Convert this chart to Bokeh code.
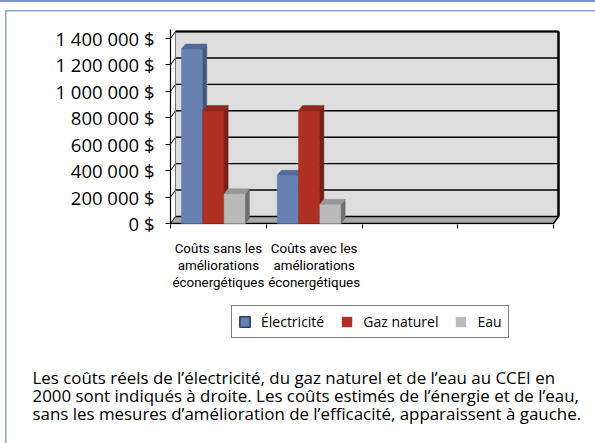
from bokeh.plotting import figure
from bokeh.models import Range1d, FixedTicker, Legend, LegendItem, Label
from bokeh.embed import file_html
from bokeh.resources import INLINE

# ---------------- data ----------------
categories = ["Coûts sans les\naméliorations\néconergétiques",
              "Coûts avec les\naméliorations\néconergétiques"]
n_slots = 4
series_names = ["Électricité", "Gaz naturel", "Eau"]
electricite = [1320000, 365000]
gaz_naturel = [855000, 855000]
eau = [225000, 145000]
y_ticks = [0, 200000, 400000, 600000, 800000, 1000000, 1200000, 1400000]
y_tick_labels = ["0 $", "200 000 $", "400 000 $", "600 000 $", "800 000 $",
                 "1 000 000 $", "1 200 000 $", "1 400 000 $"]
footer_lines = [
    "Les coûts réels de l’électricité, du gaz naturel et de l’eau au CCEI en",
    "2000 sont indiqués à droite. Les coûts estimés de l’énergie et de l’eau,",
    "sans les mesures d’amélioration de l’efficacité, apparaissent à gauche.",
]

# ---------------- geometry / style ----------------
W, H = 595, 443
H1 = 300                                 # height of the chart figure
H2 = H - H1                              # height of the legend/caption figure
FL, FR, FT, FB = 170, 562, 29, 224      # frame edges (page px)
PX_CAT = 95.75                           # px per category slot
Y0_PX, YMAX_PX = 223.0, 38.0             # front 0 and front max
YMAX = y_ticks[-1]
UPY = YMAX / (Y0_PX - YMAX_PX)           # data units per px (y)
WDX, WDY = 5 / PX_CAT, 7 * UPY           # wall depth
BDX, BDY = 4 / PX_CAT, 5 * UPY           # bar depth
BW = 21.3 / PX_CAT
OFF = 11 / PX_CAT
NAN = float("nan")

front_colors = ["#6680b2", "#b03024", "#bababa"]
side_colors = ["#45597f", "#7a1f17", "#6e6e6e"]
top_colors = ["#54699a", "#93271d", "#969696"]
legend_line = ["#2c3c5e", None, None]
RULE = "#8ca4d0"
FONT = "Open Sans"

p = figure(width=W, height=H1, title=None,
           x_range=Range1d(0, (FR - FL) / PX_CAT),
           y_range=Range1d(-(FB - Y0_PX) * UPY, YMAX + (YMAX_PX - FT) * UPY),
           output_backend="svg", toolbar_location=None,
           min_border_left=FL, min_border_right=W - FR,
           min_border_top=FT, min_border_bottom=H1 - FB)
# thin blue page rules drawn behind the (transparent) canvas
p.styles = {"background": (
    "linear-gradient(#7b96c8,#7b96c8) 0px 0px/100% 2px no-repeat, "
    f"linear-gradient({RULE},{RULE}) 5px 9.5px/100% 1.5px no-repeat, "
    f"linear-gradient({RULE},{RULE}) 5px 9.5px/1.5px 100% no-repeat, #ffffff")}
p.background_fill_color = None
p.border_fill_color = None
p.outline_line_color = None
p.xgrid.visible = False
p.ygrid.visible = False

xe = n_slots  # front right edge
# floor
p.patch([0, xe, xe + WDX, WDX], [0, 0, WDY, WDY], fill_color="#aaaaaa", line_color=None)
# back wall
p.patch([WDX, xe + WDX, xe + WDX, WDX], [WDY, WDY, YMAX + WDY, YMAX + WDY],
        fill_color="#dddddd", line_color=None)
# grid lines on wall and side diagonals
p.segment(x0=[WDX] * len(y_ticks), y0=[t + WDY for t in y_ticks],
          x1=[xe + WDX] * len(y_ticks), y1=[t + WDY for t in y_ticks],
          line_color="black", line_width=1.4)
p.segment(x0=[0] * len(y_ticks), y0=y_ticks,
          x1=[WDX] * len(y_ticks), y1=[t + WDY for t in y_ticks],
          line_color="black", line_width=1)
p.line([WDX, WDX], [WDY, YMAX + WDY], line_color="#777777", line_width=1)
p.line([WDX, xe + WDX], [YMAX + WDY, YMAX + WDY], line_color="black", line_width=2)
p.line([xe + WDX, xe + WDX], [WDY, YMAX + WDY], line_color="black", line_width=2.5)
# floor edges
p.line([0, xe, xe + WDX], [0, 0, WDY], line_color="black", line_width=1.4)

# bars
for i, vals in enumerate([electricite, gaz_naturel, eau]):
    lefts = [j + OFF + i * BW for j in range(len(vals))]
    rights = [l + BW for l in lefts]
    p.quad(left=lefts, right=rights, bottom=[0] * len(vals), top=vals,
           fill_color=front_colors[i], line_color=front_colors[i], line_width=0.5)
    p.patches(xs=[[r, r + BDX, r + BDX, r] for r in rights],
              ys=[[0, BDY, v + BDY, v] for v in vals],
              fill_color=side_colors[i], line_color=side_colors[i], line_width=0.5)
    p.patches(xs=[[l, r, r + BDX, l + BDX] for l, r in zip(lefts, rights)],
              ys=[[v, v, v + BDY, v + BDY] for v in vals],
              fill_color=top_colors[i], line_color=top_colors[i], line_width=0.5)

# axes
p.yaxis.ticker = FixedTicker(ticks=y_ticks)
p.yaxis.major_label_overrides = {t: lab for t, lab in zip(y_ticks, y_tick_labels)}
p.yaxis.axis_line_color = "black"
p.yaxis.axis_line_width = 1.2
p.yaxis.major_tick_out = 5
p.yaxis.major_tick_in = 0
p.yaxis.major_tick_line_color = "black"
p.yaxis.major_label_standoff = 11
p.yaxis.major_label_text_font = FONT
p.yaxis.major_label_text_font_size = "18.5px"
p.yaxis.major_label_text_color = "black"

cat_pos = [j + 0.5 for j in range(len(categories))]
p.xaxis.ticker = FixedTicker(ticks=cat_pos, minor_ticks=list(range(n_slots + 1)))
p.xaxis.major_label_overrides = {c: lab for c, lab in zip(cat_pos, categories)}
p.xaxis.axis_line_color = None
p.xaxis.major_tick_out = 0
p.xaxis.major_tick_in = 0
p.xaxis.minor_tick_out = 4
p.xaxis.minor_tick_in = 0
p.xaxis.minor_tick_line_color = "black"
p.xaxis.major_label_standoff = 12
p.xaxis.major_label_text_font = "Roboto"
p.xaxis.major_label_text_font_size = "13.4px"
p.xaxis.major_label_text_line_height = 1.15
p.xaxis.major_label_text_color = "black"

# ---------------- legend + caption figure ----------------
q = figure(width=W, height=H2, title=None,
           x_range=Range1d(0, W), y_range=Range1d(H2, 0),
           output_backend="svg", toolbar_location=None,
           x_axis_location=None, y_axis_location=None, min_border=0)
q.styles = {"background": (
    f"linear-gradient({RULE},{RULE}) 5px 0px/1.5px 100% no-repeat, #ffffff")}
q.background_fill_color = None
q.border_fill_color = None
q.outline_line_color = None
q.xgrid.visible = False
q.ygrid.visible = False

items = []
for i, name in enumerate(series_names):
    r = q.quad(left=[NAN], right=[NAN], top=[NAN], bottom=[NAN],
               fill_color=front_colors[i], line_color=legend_line[i], line_width=1.5)
    items.append(LegendItem(label=name, renderers=[r]))
legend = Legend(items=items, orientation="horizontal",
                location=(231, H2 - (338 - H1)),
                glyph_width=13, glyph_height=13, label_standoff=10, spacing=16,
                padding=6, margin=0, label_height=13,
                border_line_color="black", border_line_width=1.3,
                background_fill_color="white", background_fill_alpha=1,
                label_text_font=FONT, label_text_font_size="14px",
                label_text_color="black")
q.add_layout(legend)

for k, line in enumerate(footer_lines):
    q.add_layout(Label(x=32, y=377 - H1 + 18 * k, text=line,
                       text_font=FONT, text_font_size="16.9px",
                       text_color="black", text_baseline="middle"))

open("out.html", "w").write(file_html([p, q], INLINE))
